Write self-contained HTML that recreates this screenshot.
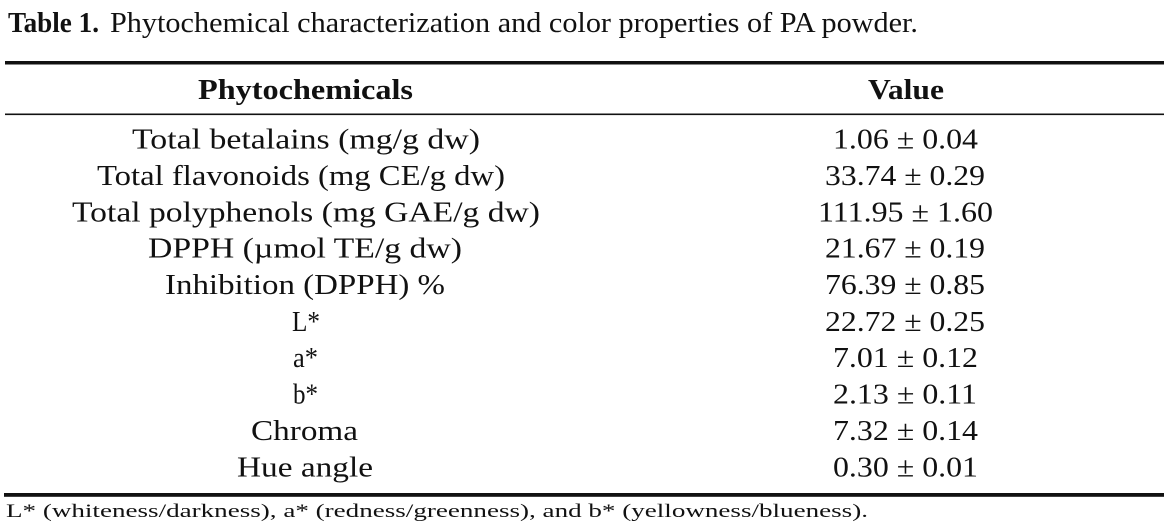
<!DOCTYPE html>
<html>
<head>
<meta charset="utf-8">
<style>
  html, body { margin: 0; padding: 0; background: #fff; }
  svg { display: block; }
  text { font-family: "Liberation Serif", "DejaVu Serif", serif; fill: #111; }
</style>
</head>
<body>
<svg width="1164" height="524" viewBox="0 0 1164 524" xmlns="http://www.w3.org/2000/svg">
  <rect width="1164" height="524" fill="#fff"/>
  <!-- Title -->
  <text x="8" y="32" font-size="29" font-weight="bold" textLength="91" lengthAdjust="spacingAndGlyphs">Table 1.</text>
  <text x="110" y="32" font-size="29" textLength="808" lengthAdjust="spacingAndGlyphs">Phytochemical characterization and color properties of PA powder.</text>

  <!-- Rules -->
  <rect x="5" y="61" width="1159" height="3.5" fill="#111"/>
  <rect x="5" y="113.5" width="1159" height="1.6" fill="#111"/>
  <rect x="4" y="493" width="1160" height="3.8" fill="#111"/>

  <!-- Header -->
  <text x="198" y="99" font-size="29" font-weight="bold" textLength="215" lengthAdjust="spacingAndGlyphs">Phytochemicals</text>
  <text x="868" y="99" font-size="29" font-weight="bold" textLength="76" lengthAdjust="spacingAndGlyphs">Value</text>

  <!-- Left column -->
  <g font-size="29">
    <text x="132" y="148.5" textLength="348" lengthAdjust="spacingAndGlyphs">Total betalains (mg/g dw)</text>
    <text x="97" y="185" textLength="408" lengthAdjust="spacingAndGlyphs">Total flavonoids (mg CE/g dw)</text>
    <text x="72" y="221.3" textLength="468" lengthAdjust="spacingAndGlyphs">Total polyphenols (mg GAE/g dw)</text>
    <text x="148" y="257.7" textLength="314" lengthAdjust="spacingAndGlyphs">DPPH (µmol TE/g dw)</text>
    <text x="165" y="294.1" textLength="280" lengthAdjust="spacingAndGlyphs">Inhibition (DPPH) %</text>
    <text x="292" y="331" textLength="28" lengthAdjust="spacingAndGlyphs">L*</text>
    <text x="293" y="367" textLength="25" lengthAdjust="spacingAndGlyphs">a*</text>
    <text x="293" y="403.3" textLength="25" lengthAdjust="spacingAndGlyphs">b*</text>
    <text x="251" y="439.8" textLength="107" lengthAdjust="spacingAndGlyphs">Chroma</text>
    <text x="237" y="476.5" textLength="136" lengthAdjust="spacingAndGlyphs">Hue angle</text>
  </g>

  <!-- Right column -->
  <g font-size="29">
    <text x="833" y="148.5" textLength="145" lengthAdjust="spacingAndGlyphs">1.06 ± 0.04</text>
    <text x="825" y="185" textLength="160" lengthAdjust="spacingAndGlyphs">33.74 ± 0.29</text>
    <text x="818" y="221.3" textLength="175" lengthAdjust="spacingAndGlyphs">111.95 ± 1.60</text>
    <text x="825" y="257.7" textLength="160" lengthAdjust="spacingAndGlyphs">21.67 ± 0.19</text>
    <text x="825" y="294.1" textLength="160" lengthAdjust="spacingAndGlyphs">76.39 ± 0.85</text>
    <text x="825" y="331" textLength="160" lengthAdjust="spacingAndGlyphs">22.72 ± 0.25</text>
    <text x="833" y="367" textLength="145" lengthAdjust="spacingAndGlyphs">7.01 ± 0.12</text>
    <text x="833" y="403.3" textLength="144" lengthAdjust="spacingAndGlyphs">2.13 ± 0.11</text>
    <text x="833" y="439.8" textLength="145" lengthAdjust="spacingAndGlyphs">7.32 ± 0.14</text>
    <text x="833" y="476.5" textLength="145" lengthAdjust="spacingAndGlyphs">0.30 ± 0.01</text>
  </g>

  <!-- Footer -->
  <text x="6" y="517" font-size="18.5" textLength="862" lengthAdjust="spacingAndGlyphs">L* (whiteness/darkness), a* (redness/greenness), and b* (yellowness/blueness).</text>
</svg>
</body>
</html>
